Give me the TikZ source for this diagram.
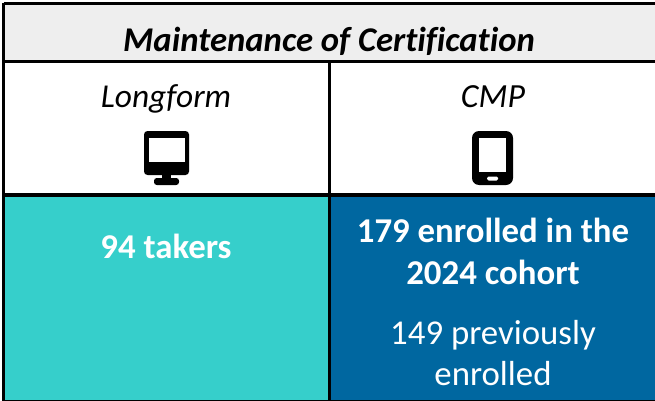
\documentclass[tikz,border=0pt]{standalone}
\usepackage{fontspec}
\setmainfont[Ligatures=NoCommon]{Carlito}
\definecolor{headgray}{HTML}{EEEEEE}
\definecolor{teal}{HTML}{36CFCB}
\definecolor{deepblue}{HTML}{0067A0}
\tikzset{
  rule/.style={line width=3.2pt,black},
  label/.style={inner sep=0pt,anchor=base,align=center},
}
\begin{document}
\begin{tikzpicture}[x=1pt,y=-1pt]
\useasboundingbox (0,0) rectangle (655,401);
\fill[white] (0,0) rectangle (655,401);
\fill[headgray] (3.5,3.5) rectangle (655,61.5);
\fill[teal] (3.5,195) rectangle (329.5,401);
\fill[deepblue] (329.5,195) rectangle (655,401);
% grid
\coordinate (tl) at (3.5,3.5);
\coordinate (tr) at (655,3.5);
\coordinate (hl) at (3.5,61.5);
\coordinate (hr) at (655,61.5);
\coordinate (hm) at (329.5,61.5);
\coordinate (bm) at (329.5,401);
\coordinate (ml) at (3.5,195);
\coordinate (mr) at (655,195);
\coordinate (bl) at (3.5,401);
\coordinate (br) at (655,401);
\draw[rule] (tl) -- (tr);
\draw[rule] (hl) -- (hr);
\draw[rule] (ml) -- (mr);
\draw[rule] (tl) -- (bl);
\draw[rule] (hm) -- (bm);
\draw[line width=3pt] (bl) -- (br);
% text
\node[label,font=\fontsize{34.7}{36}\selectfont\bfseries\itshape] (title) at (329,52) {Maintenance of Certification};
\node[label,font=\fontsize{33.4}{36}\selectfont\itshape] (long) at (166,108) {Longform};
\node[label,font=\fontsize{33.8}{36}\selectfont\itshape] (cmp) at (493,108) {CMP};
\node[label,white,font=\fontsize{34.8}{36}\selectfont\bfseries] (t94) at (166,258) {94 takers};
\node[label,white,font=\fontsize{34.8}{36}\selectfont\bfseries] (t179) at (493,242) {179 enrolled in the};
\node[label,white,font=\fontsize{34.8}{36}\selectfont\bfseries] (t2024) at (493,284.5) {2024 cohort};
\node[label,white,font=\fontsize{34.8}{36}\selectfont] (t149) at (493,344) {149 previously};
\node[label,white,font=\fontsize{34.8}{36}\selectfont] (tenr) at (493,385) {enrolled};
% desktop icon
\fill[black,rounded corners=3.5pt] (144,131) rectangle (189,175);
\fill[white] (149,137.5) rectangle (184.5,161.5);
\fill[black] (162,174) rectangle (171,181);
\fill[black,rounded corners=2.8pt] (154,178) rectangle (179,185);
% phone icon
\fill[black,rounded corners=7pt] (472,131) rectangle (513,185);
\fill[white] (479,137.5) rectangle (505.5,172);
\fill[white,rounded corners=1.5pt] (487,176.5) rectangle (498,180.5);
\end{tikzpicture}
\end{document}
